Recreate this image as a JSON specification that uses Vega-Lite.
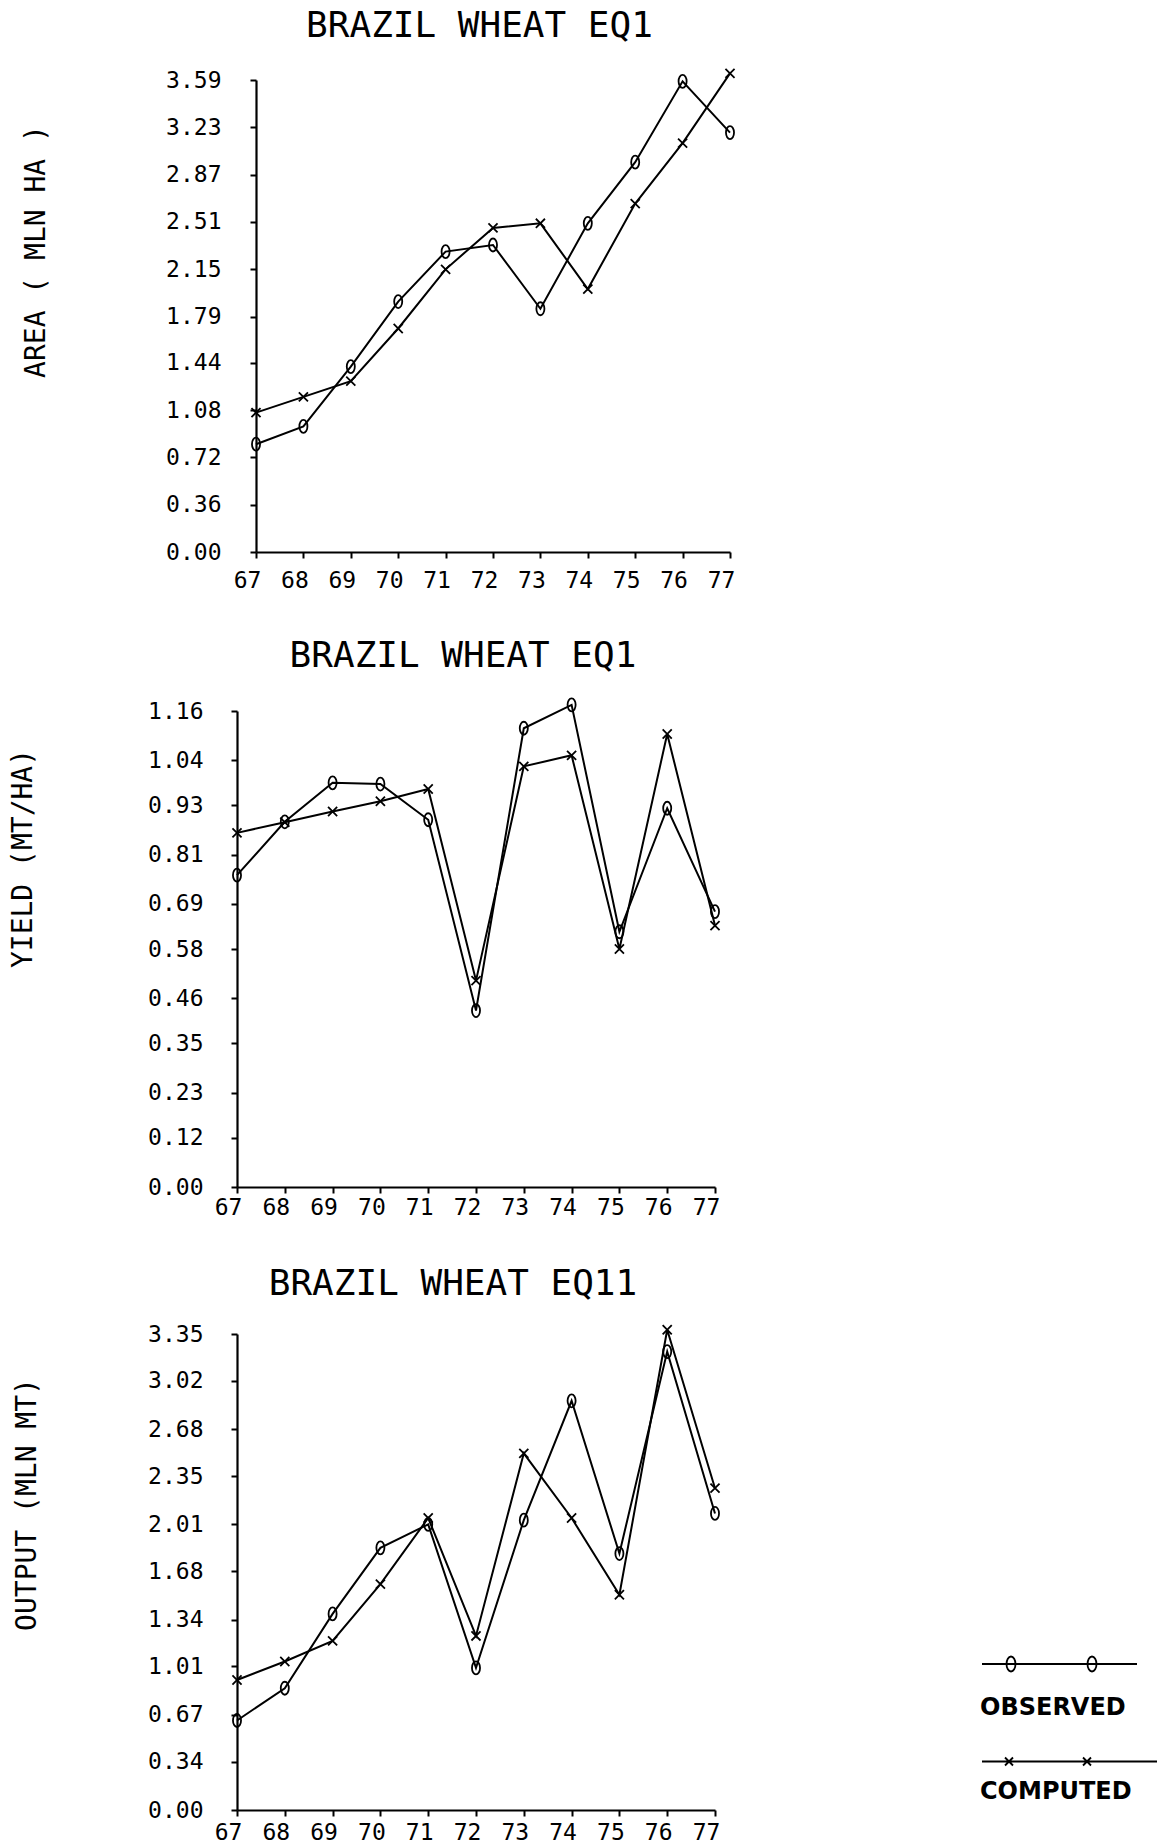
{
  "$schema": "https://vega.github.io/schema/vega-lite/v6.json",
  "background": "white",
  "padding": {"left": 8, "top": 8, "right": 4, "bottom": 4},
  "config": {
    "view": {"stroke": null},
    "font": "DejaVu Sans Mono",
    "axis": {
      "domainColor": "black", "domainWidth": 2.2, "tickColor": "black", "tickWidth": 2, "tickSize": 6,
      "labelColor": "black", "labelFont": "DejaVu Sans Mono", "labelFontSize": 23,
      "titleFont": "DejaVu Sans Mono", "titleFontSize": 28, "titleFontWeight": "normal", "titleColor": "black",
      "grid": false, "labelFlush": false, "labelOverlap": false
    },
    "title": {"font": "DejaVu Sans Mono", "fontSize": 36, "fontWeight": "normal", "color": "black", "anchor": "middle", "frame": "group", "baseline": "alphabetic"}
  },
  "datasets": {
    "area": [
      {"year": 67, "series": "OBSERVED", "value": 0.82}, {"year": 68, "series": "OBSERVED", "value": 0.955}, {"year": 69, "series": "OBSERVED", "value": 1.41}, {"year": 70, "series": "OBSERVED", "value": 1.905}, {"year": 71, "series": "OBSERVED", "value": 2.285}, {"year": 72, "series": "OBSERVED", "value": 2.335}, {"year": 73, "series": "OBSERVED", "value": 1.85}, {"year": 74, "series": "OBSERVED", "value": 2.5}, {"year": 75, "series": "OBSERVED", "value": 2.965}, {"year": 76, "series": "OBSERVED", "value": 3.58}, {"year": 77, "series": "OBSERVED", "value": 3.19},
      {"year": 67, "series": "COMPUTED", "value": 1.06}, {"year": 68, "series": "COMPUTED", "value": 1.18}, {"year": 69, "series": "COMPUTED", "value": 1.3}, {"year": 70, "series": "COMPUTED", "value": 1.7}, {"year": 71, "series": "COMPUTED", "value": 2.15}, {"year": 72, "series": "COMPUTED", "value": 2.465}, {"year": 73, "series": "COMPUTED", "value": 2.5}, {"year": 74, "series": "COMPUTED", "value": 2.0}, {"year": 75, "series": "COMPUTED", "value": 2.65}, {"year": 76, "series": "COMPUTED", "value": 3.11}, {"year": 77, "series": "COMPUTED", "value": 3.64}
    ],
    "yield": [
      {"year": 67, "series": "OBSERVED", "value": 0.76}, {"year": 68, "series": "OBSERVED", "value": 0.89}, {"year": 69, "series": "OBSERVED", "value": 0.985}, {"year": 70, "series": "OBSERVED", "value": 0.982}, {"year": 71, "series": "OBSERVED", "value": 0.895}, {"year": 72, "series": "OBSERVED", "value": 0.43}, {"year": 73, "series": "OBSERVED", "value": 1.118}, {"year": 74, "series": "OBSERVED", "value": 1.175}, {"year": 75, "series": "OBSERVED", "value": 0.622}, {"year": 76, "series": "OBSERVED", "value": 0.923}, {"year": 77, "series": "OBSERVED", "value": 0.671},
      {"year": 67, "series": "COMPUTED", "value": 0.863}, {"year": 68, "series": "COMPUTED", "value": 0.889}, {"year": 69, "series": "COMPUTED", "value": 0.915}, {"year": 70, "series": "COMPUTED", "value": 0.94}, {"year": 71, "series": "COMPUTED", "value": 0.97}, {"year": 72, "series": "COMPUTED", "value": 0.503}, {"year": 73, "series": "COMPUTED", "value": 1.025}, {"year": 74, "series": "COMPUTED", "value": 1.052}, {"year": 75, "series": "COMPUTED", "value": 0.58}, {"year": 76, "series": "COMPUTED", "value": 1.104}, {"year": 77, "series": "COMPUTED", "value": 0.637}
    ],
    "output": [
      {"year": 67, "series": "OBSERVED", "value": 0.63}, {"year": 68, "series": "OBSERVED", "value": 0.857}, {"year": 69, "series": "OBSERVED", "value": 1.38}, {"year": 70, "series": "OBSERVED", "value": 1.845}, {"year": 71, "series": "OBSERVED", "value": 2.01}, {"year": 72, "series": "OBSERVED", "value": 1.0}, {"year": 73, "series": "OBSERVED", "value": 2.04}, {"year": 74, "series": "OBSERVED", "value": 2.88}, {"year": 75, "series": "OBSERVED", "value": 1.805}, {"year": 76, "series": "OBSERVED", "value": 3.226}, {"year": 77, "series": "OBSERVED", "value": 2.087},
      {"year": 67, "series": "COMPUTED", "value": 0.915}, {"year": 68, "series": "COMPUTED", "value": 1.045}, {"year": 69, "series": "COMPUTED", "value": 1.19}, {"year": 70, "series": "COMPUTED", "value": 1.59}, {"year": 71, "series": "COMPUTED", "value": 2.055}, {"year": 72, "series": "COMPUTED", "value": 1.225}, {"year": 73, "series": "COMPUTED", "value": 2.51}, {"year": 74, "series": "COMPUTED", "value": 2.055}, {"year": 75, "series": "COMPUTED", "value": 1.515}, {"year": 76, "series": "COMPUTED", "value": 3.38}, {"year": 77, "series": "COMPUTED", "value": 2.265}
    ]
  },
  "bounds": "flush",
  "spacing": 147,
  "resolve": {"scale": {"shape": "independent", "x": "independent", "y": "independent"}, "legend": {"shape": "independent"}},
  "vconcat": [
    {
      "width": 493, "height": 484,
      "title": {"text": "BRAZIL WHEAT EQ1", "offset": 20, "dx": -4},
      "data": {"name": "area"},
      "encoding": {
        "x": {"field": "year", "type": "quantitative",
          "scale": {"domain": [67, 77], "range": [19, 493], "nice": false, "zero": false},
          "axis": {"title": null, "values": [67, 68, 69, 70, 71, 72, 73, 74, 75, 76, 77], "format": "d", "offset": -12, "labelOffset": -9, "labelPadding": 11,
            "encode": {"ticks": {"y": {"value": -6}}}}},
        "y": {"field": "value", "type": "quantitative",
          "scale": {"domain": [0, 3.59], "range": [472, 0], "nice": false, "zero": false},
          "axis": {"title": "AREA ( MLN HA )", "values": [0, 0.36, 0.72, 1.08, 1.44, 1.79, 2.15, 2.51, 2.87, 3.23, 3.59], "format": ".2f", "offset": -19, "labelPadding": 29,
            "titleX": -220, "titleY": 171, "titleAngle": -90, "titleBaseline": "middle", "titleAlign": "center",
            "encode": {"ticks": {"x": {"value": 6}}}}}
      },
      "layer": [
        {"mark": {"type": "line", "color": "black", "strokeWidth": 2}, "encoding": {"detail": {"field": "series"}}},
        {"mark": {"type": "point", "filled": false, "color": "black", "strokeWidth": 1.8, "size": 169, "opacity": 1},
          "encoding": {"shape": {"field": "series", "type": "nominal",
            "scale": {"domain": ["OBSERVED", "COMPUTED"], "range": ["M0,-1A0.62,1,0,1,1,0,1A0.62,1,0,1,1,0,-1Z", "M-0.7,-0.7L0.7,0.7M-0.7,0.7L0.7,-0.7"]},
            "legend": null}}}
      ]
    },
    {
      "width": 478, "height": 476,
      "title": {"text": "BRAZIL WHEAT EQ1", "offset": 20, "dx": -13},
      "data": {"name": "yield"},
      "encoding": {
        "x": {"field": "year", "type": "quantitative",
          "scale": {"domain": [67, 77], "nice": false, "zero": false},
          "axis": {"title": null, "values": [67, 68, 69, 70, 71, 72, 73, 74, 75, 76, 77], "format": "d", "labelOffset": -9, "labelPadding": 3,
            "encode": {"ticks": {"y": {"value": -6}}}}},
        "y": {"field": "value", "type": "quantitative",
          "scale": {"domain": [0, 1.16], "nice": false, "zero": false},
          "axis": {"title": "YIELD (MT/HA)", "values": [0, 0.12, 0.23, 0.35, 0.46, 0.58, 0.69, 0.81, 0.93, 1.04, 1.16], "format": ".2f", "labelPadding": 28,
            "titleX": -214, "titleY": 147, "titleAngle": -90, "titleBaseline": "middle", "titleAlign": "center",
            "encode": {"ticks": {"x": {"value": 6}}}}}
      },
      "layer": [
        {"mark": {"type": "line", "color": "black", "strokeWidth": 2}, "encoding": {"detail": {"field": "series"}}},
        {"mark": {"type": "point", "filled": false, "color": "black", "strokeWidth": 1.8, "size": 169, "opacity": 1},
          "encoding": {"shape": {"field": "series", "type": "nominal",
            "scale": {"domain": ["OBSERVED", "COMPUTED"], "range": ["M0,-1A0.62,1,0,1,1,0,1A0.62,1,0,1,1,0,-1Z", "M-0.7,-0.7L0.7,0.7M-0.7,0.7L0.7,-0.7"]},
            "legend": null}}}
      ]
    },
    {
      "width": 478, "height": 476,
      "title": {"text": "BRAZIL WHEAT EQ11", "offset": 19, "dx": -23},
      "data": {"name": "output"},
      "resolve": {"scale": {"shape": "independent"}, "legend": {"shape": "independent"}},
      "encoding": {
        "x": {"field": "year", "type": "quantitative",
          "scale": {"domain": [67, 77], "nice": false, "zero": false},
          "axis": {"title": null, "values": [67, 68, 69, 70, 71, 72, 73, 74, 75, 76, 77], "format": "d", "labelOffset": -9, "labelPadding": 5,
            "encode": {"ticks": {"y": {"value": -6}}}}},
        "y": {"field": "value", "type": "quantitative",
          "scale": {"domain": [0, 3.35], "nice": false, "zero": false},
          "axis": {"title": "OUTPUT (MLN MT)", "values": [0, 0.34, 0.67, 1.01, 1.34, 1.68, 2.01, 2.35, 2.68, 3.02, 3.35], "format": ".2f", "labelPadding": 28,
            "titleX": -210, "titleY": 170, "titleAngle": -90, "titleBaseline": "middle", "titleAlign": "center",
            "encode": {"ticks": {"x": {"value": 6}}}}}
      },
      "layer": [
        {"mark": {"type": "line", "color": "black", "strokeWidth": 2}, "encoding": {"detail": {"field": "series"}}},
        {"mark": {"type": "point", "filled": false, "color": "black", "strokeWidth": 1.8, "size": 169, "opacity": 1},
          "encoding": {"shape": {"field": "series", "type": "nominal",
            "scale": {"domain": ["OBSERVED", "COMPUTED"], "range": ["M0,-1A0.62,1,0,1,1,0,1A0.62,1,0,1,1,0,-1Z", "M-0.7,-0.7L0.7,0.7M-0.7,0.7L0.7,-0.7"]},
            "legend": null}}},
        {"transform": [{"filter": "false"}],
          "mark": {"type": "point", "filled": false, "color": "black", "strokeWidth": 1.8},
          "encoding": {"shape": {"field": "series", "type": "nominal",
            "scale": {"domain": ["OBSERVED", "COMPUTED"], "range": [
              "M-7.7,-4.4H7.8M-4.8,-5.15A0.45,0.75,0,1,1,-4.8,-3.65A0.45,0.75,0,1,1,-4.8,-5.15ZM3.3,-5.15A0.45,0.75,0,1,1,3.3,-3.65A0.45,0.75,0,1,1,3.3,-5.15Z",
              "M-7.7,-3.05H9.8M-5.4,-3.45L-4.6,-2.65M-5.4,-2.65L-4.6,-3.45M2.4,-3.45L3.2,-2.65M2.4,-2.65L3.2,-3.45"]},
            "legend": {
              "orient": "none", "legendX": 810, "legendY": 362, "title": null, "padding": 0,
              "symbolSize": 400, "symbolStrokeWidth": 1.8, "symbolStrokeColor": "black", "symbolFillColor": "transparent", "symbolOpacity": 1,
              "labelFont": "DejaVu Sans", "labelFontSize": 24, "labelFontWeight": "bold", "labelColor": "black",
              "labelOffset": -91, "rowPadding": 33, "labelLimit": 400
            }}}}
      ]
    }
  ]
}
